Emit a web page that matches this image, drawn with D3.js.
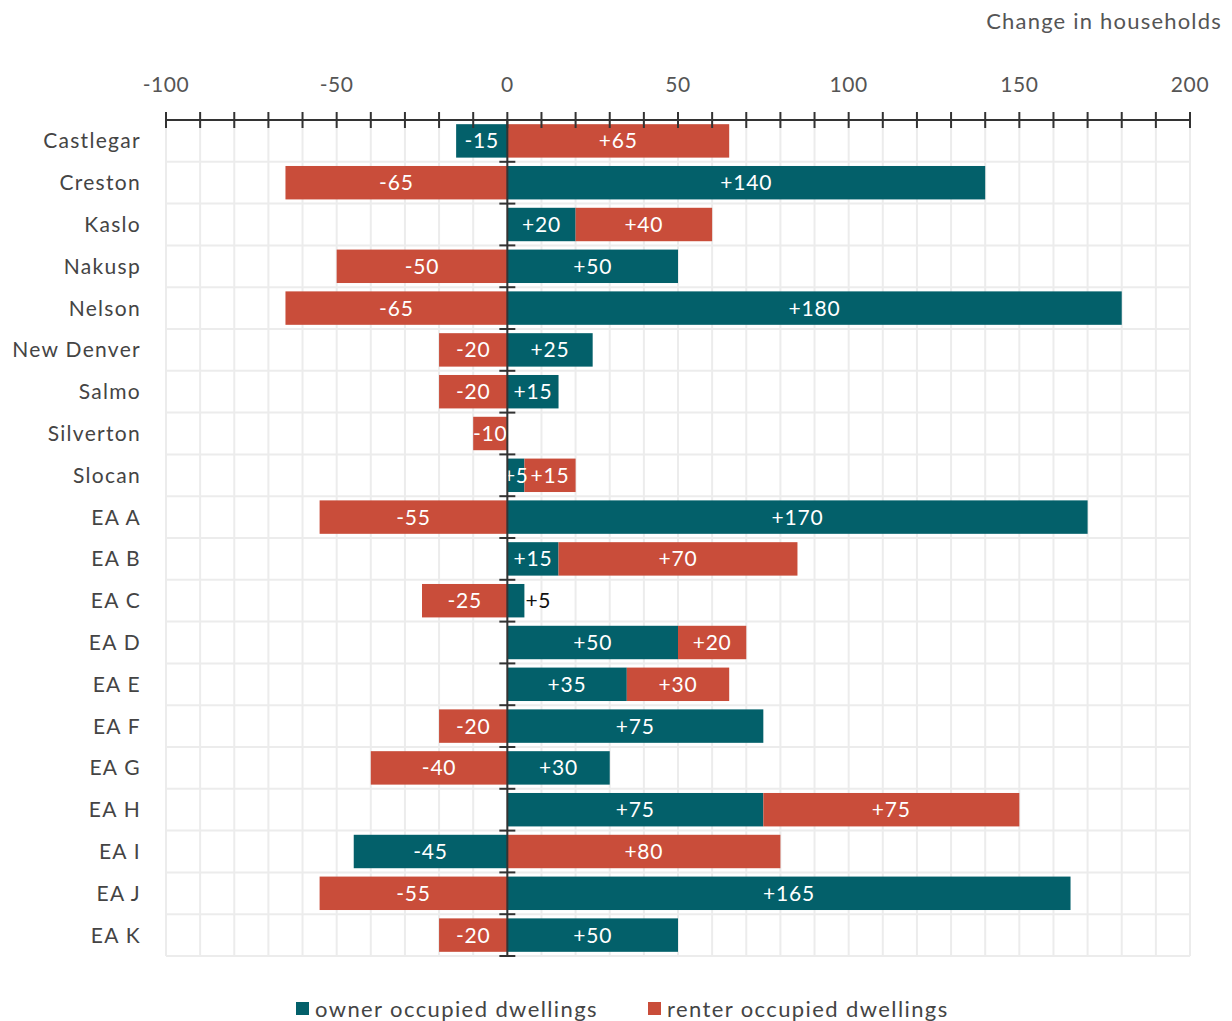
<!DOCTYPE html>
<html><head><meta charset="utf-8">
<script src="https://cdn.jsdelivr.net/npm/d3@7"></script>
<style>
html,body{margin:0;padding:0;background:#fff;overflow:hidden;}
svg{display:block;font-family:Lato,"Open Sans",sans-serif;}
</style></head>
<body>
<svg id="chart" width="1232" height="1021"></svg>
<script>
const categories = ["Castlegar","Creston","Kaslo","Nakusp","Nelson","New Denver","Salmo","Silverton","Slocan","EA A","EA B","EA C","EA D","EA E","EA F","EA G","EA H","EA I","EA J","EA K"];
const ownerValues  = [-15, 140, 20, 50, 180, 25, 15, 0, 5, 170, 15, 5, 50, 35, 75, 30, 75, -45, 165, 50];
const renterValues = [65, -65, 40, -50, -65, -20, -20, -10, 15, -55, 70, -25, 20, 30, -20, -40, 75, 80, -55, -20];
const seriesNames = ["owner occupied dwellings","renter occupied dwellings"];
const xTicks = [-100,-50,0,50,100,150,200];
const axisTitle = "Change in households";

const colors = {owner:"#03606A", renter:"#C94D3A"};
const svg = d3.select("#chart");
const margin = {left:166, right:42, top:120, bottom:65};
const W = 1232, H = 1021;

const x = d3.scaleLinear().domain([-100,200]).range([margin.left, W - margin.right]);
const y = d3.scaleBand().domain(categories).range([margin.top, H - margin.bottom]).paddingInner(0.2).paddingOuter(0.1);
const yb = d3.scaleBand().domain(categories).range([margin.top, H - margin.bottom]);

const rows = categories.map((c,i)=>({cat:c, owner:ownerValues[i], renter:renterValues[i]}));
const stack = d3.stack().keys(["owner","renter"]).offset(d3.stackOffsetDiverging);
const series = stack(rows);

// gridlines
const grid = svg.append("g");
grid.selectAll("line.v").data(d3.range(-100,201,10)).join("line")
  .attr("x1",d=>x(d)).attr("x2",d=>x(d))
  .attr("y1",margin.top).attr("y2",H-margin.bottom)
  .attr("stroke","#ececec").attr("stroke-width",2);
grid.selectAll("line.h").data(categories).join("line")
  .attr("x1",x(-100)).attr("x2",x(200))
  .attr("y1",d=>yb(d)+yb.bandwidth()).attr("y2",d=>yb(d)+yb.bandwidth())
  .attr("stroke","#ececec").attr("stroke-width",2);

// bars
const gBars = svg.append("g");
series.forEach(s=>{
  gBars.selectAll(null).data(s.filter(d=>d[1]-d[0]!==0)).join("rect")
    .attr("x",d=>x(Math.min(d[0],d[1])))
    .attr("width",d=>Math.abs(x(d[1])-x(d[0])))
    .attr("y",d=>y(d.data.cat))
    .attr("height",y.bandwidth())
    .attr("fill",colors[s.key]);
});

// labels
const gLab = svg.append("g").attr("font-size",21).attr("letter-spacing","0.8px");
series.forEach(s=>{
  s.forEach((d,i)=>{
    const v = d.data[s.key];
    if(v===0) return;
    const txt = (v>0?"+":"")+v;
    const other = s.key==="owner"? d.data.renter : d.data.owner;
    const outer = s.key==="renter" || Math.sign(other)!==Math.sign(v);
    const cy = y(d.data.cat)+y.bandwidth()/2;
    if(Math.abs(v)<10 && outer){
      gLab.append("text").attr("x",x(v>0?d[1]:d[0])+ (v>0?1:-1)).attr("y",cy)
        .attr("dy","0.36em").attr("text-anchor",v>0?"start":"end").attr("fill","#111").text(txt);
    } else {
      gLab.append("text").attr("x",(x(d[0])+x(d[1]))/2).attr("y",cy)
        .attr("dy","0.36em").attr("text-anchor","middle").attr("fill","#fff").text(txt);
    }
  });
});

// top axis
const axisG = svg.append("g").attr("transform",`translate(0,${margin.top})`);
axisG.append("line").attr("x1",x(-100)).attr("x2",x(200)).attr("stroke","#333").attr("stroke-width",2);
axisG.selectAll("line.t").data(d3.range(-100,201,10)).join("line")
  .attr("x1",d=>x(d)).attr("x2",d=>x(d)).attr("y1",-8).attr("y2",8)
  .attr("stroke","#333").attr("stroke-width",2);
axisG.selectAll("text").data(xTicks).join("text")
  .attr("x",d=>x(d)).attr("y",-36).attr("dy","0.36em").attr("text-anchor","middle")
  .attr("font-size",21).attr("letter-spacing","0.6px").attr("fill","#555").text(d=>d);

// zero axis
const zg = svg.append("g");
zg.append("line").attr("x1",x(0)).attr("x2",x(0)).attr("y1",margin.top).attr("y2",H-margin.bottom)
  .attr("stroke","#333").attr("stroke-width",2);
zg.selectAll("line.t").data(d3.range(1,categories.length+1)).join("line")
  .attr("x1",x(0)-8).attr("x2",x(0)+8)
  .attr("y1",i=>margin.top+i*yb.step()).attr("y2",i=>margin.top+i*yb.step())
  .attr("stroke","#333").attr("stroke-width",2);

// category labels
svg.append("g").selectAll("text").data(categories).join("text")
  .attr("x",141).attr("y",d=>yb(d)+yb.bandwidth()/2).attr("dy","0.36em")
  .attr("text-anchor","end").attr("font-size",21).attr("letter-spacing","1.3px").attr("fill","#444").text(d=>d);

// axis title
svg.append("text").attr("x",1222).attr("y",21).attr("dy","0.36em").attr("text-anchor","end")
  .attr("font-size",22).attr("letter-spacing","1.2px").attr("fill","#555").text(axisTitle);

// legend
const leg = svg.append("g").attr("font-size",22).attr("letter-spacing","1.4px").attr("fill","#444");
const legX = [296, 648];
seriesNames.forEach((n,i)=>{
  leg.append("rect").attr("x",legX[i]).attr("y",1002).attr("width",13).attr("height",13)
    .attr("fill",i===0?colors.owner:colors.renter);
  leg.append("text").attr("x",legX[i]+19).attr("y",1009).attr("dy","0.36em").text(n);
});
</script>
</body></html>
